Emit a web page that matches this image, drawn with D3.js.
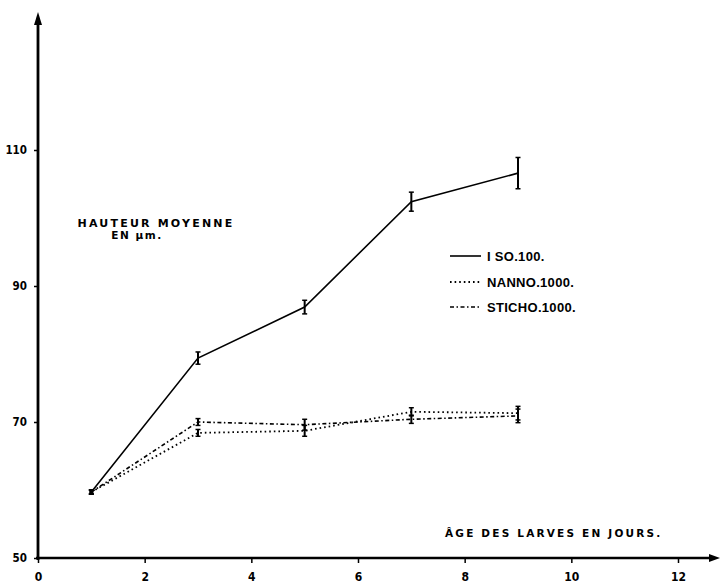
<!DOCTYPE html>
<html>
<head>
<meta charset="utf-8">
<script src="https://cdn.jsdelivr.net/npm/d3@7"></script>
<style>
  body { margin: 0; background: #fff; }
  svg text { fill: #000; }
</style>
</head>
<body>
<svg id="chart" width="720" height="587"></svg>
<script>
// Larval age (days) at each measurement
const days = [1, 3, 5, 7, 9];

// Mean shell height (µm) per diet
const iso100 = [59.7, 79.4, 86.9, 102.4, 106.6];
const nanno1000 = [59.7, 68.4, 68.7, 71.5, 71.3];
const sticho1000 = [59.7, 70.0, 69.6, 70.4, 70.9];

// Half-width of the error bars (µm)
const isoErr = [0.3, 0.9, 1.0, 1.4, 2.3];
const nannoErr = [0.3, 0.5, 0.8, 0.6, 1.0];
const stichoErr = [0.3, 0.5, 0.8, 0.6, 1.0];

const xTicks = [0, 2, 4, 6, 8, 10, 12];
const yTicks = [50, 70, 90, 110];

const seriesNames = ["I SO.100.", "NANNO.1000.", "STICHO.1000."];

const svg = d3.select("#chart");

const x = d3.scaleLinear().domain([0, 12]).range([38, 678]);
const y = d3.scaleLinear().domain([50, 110]).range([558, 150]);

const tickFont = "'DejaVu Sans Condensed', 'DejaVu Sans', sans-serif";
const titleFont = "'DejaVu Sans', sans-serif";
const legendFont = "'Liberation Sans', Arial, sans-serif";

// X axis: ticks and labels, then a heavy line ending in an arrow
const xAxis = d3.axisBottom(x).tickValues(xTicks).tickSize(5).tickPadding(9).tickFormat(d3.format("d"));
const gx = svg.append("g").attr("transform", `translate(0,${y(50)})`).call(xAxis);
gx.select(".domain").remove();
gx.selectAll(".tick line").attr("stroke", "#000").attr("stroke-width", 1.5);
gx.selectAll(".tick text")
  .attr("font-family", tickFont).attr("font-weight", "bold").attr("font-size", 12);

svg.append("line")
  .attr("x1", x(0) - 2).attr("x2", 714)
  .attr("y1", y(50)).attr("y2", y(50))
  .attr("stroke", "#000").attr("stroke-width", 2.5);
svg.append("path")
  .attr("d", `M720,${y(50)} L709,${y(50) - 4} L709,${y(50) + 4} Z`)
  .attr("fill", "#000");

// Y axis: ticks and labels, then a heavy line ending in an arrow at the top
const yAxis = d3.axisLeft(y).tickValues(yTicks).tickSize(4).tickPadding(7).tickFormat(d3.format("d"));
const gy = svg.append("g").attr("transform", `translate(${x(0)},0)`).call(yAxis);
gy.select(".domain").remove();
gy.selectAll(".tick line").attr("stroke", "#000").attr("stroke-width", 1.5);
gy.selectAll(".tick text")
  .attr("font-family", tickFont).attr("font-weight", "bold").attr("font-size", 11.5);

svg.append("line")
  .attr("x1", x(0)).attr("x2", x(0))
  .attr("y1", y(50) + 2).attr("y2", 22)
  .attr("stroke", "#000").attr("stroke-width", 2.8);
svg.append("path")
  .attr("d", `M${x(0)},12 L${x(0) - 4},25 L${x(0) + 4},25 Z`)
  .attr("fill", "#000");

// Series: line plus error bars with small caps
const series = [
  { name: seriesNames[0], values: iso100, err: isoErr, dash: null, width: 1.6 },
  { name: seriesNames[1], values: nanno1000, err: nannoErr, dash: "1.6,3", width: 1.8 },
  { name: seriesNames[2], values: sticho1000, err: stichoErr, dash: "4,2.5,1.5,2.5", width: 1.6 }
];

const line = d3.line().x((d, i) => x(days[i])).y(d => y(d));

series.forEach(s => {
  svg.append("path")
    .datum(s.values)
    .attr("d", line)
    .attr("fill", "none")
    .attr("stroke", "#000")
    .attr("stroke-width", s.width)
    .attr("stroke-dasharray", s.dash);

  const eb = svg.append("g");
  s.values.forEach((v, i) => {
    const cx = x(days[i]);
    const top = y(v + s.err[i]);
    const bot = y(v - s.err[i]);
    eb.append("line").attr("x1", cx).attr("x2", cx).attr("y1", top).attr("y2", bot)
      .attr("stroke", "#000").attr("stroke-width", 2);
    [top, bot].forEach(yy => {
      eb.append("line").attr("x1", cx - 2.5).attr("x2", cx + 2.5).attr("y1", yy).attr("y2", yy)
        .attr("stroke", "#000").attr("stroke-width", 1.5);
    });
  });
});

// Small marker at the common starting point
svg.append("path")
  .attr("d", d3.symbol().type(d3.symbolSquare).size(18)())
  .attr("transform", `translate(${x(days[0])},${y(iso100[0])})`)
  .attr("fill", "#000");

// Y axis title
svg.append("text")
  .attr("x", 156).attr("y", 227)
  .attr("text-anchor", "middle")
  .attr("font-family", titleFont).attr("font-weight", "bold").attr("font-size", 11)
  .attr("letter-spacing", 2.2)
  .text("HAUTEUR MOYENNE");
svg.append("text")
  .attr("x", 137).attr("y", 239)
  .attr("text-anchor", "middle")
  .attr("font-family", titleFont).attr("font-weight", "bold").attr("font-size", 10.5)
  .attr("letter-spacing", 1.5)
  .text("EN µm.");

// X axis title
svg.append("text")
  .attr("x", 445).attr("y", 537)
  .attr("font-family", titleFont).attr("font-weight", "bold").attr("font-size", 10.5)
  .attr("letter-spacing", 2.2)
  .text("ÂGE DES LARVES EN JOURS.");

// Legend
const legendY = [256, 282, 307];
series.forEach((s, i) => {
  svg.append("line")
    .attr("x1", 450).attr("x2", 481)
    .attr("y1", legendY[i]).attr("y2", legendY[i])
    .attr("stroke", "#000").attr("stroke-width", s.width)
    .attr("stroke-dasharray", s.dash);
  svg.append("text")
    .attr("x", 487).attr("y", legendY[i] + 5)
    .attr("font-family", legendFont).attr("font-size", 13)
    .attr("font-weight", "bold")
    .attr("letter-spacing", 0.3)
    .text(s.name);
});
</script>
</body>
</html>
